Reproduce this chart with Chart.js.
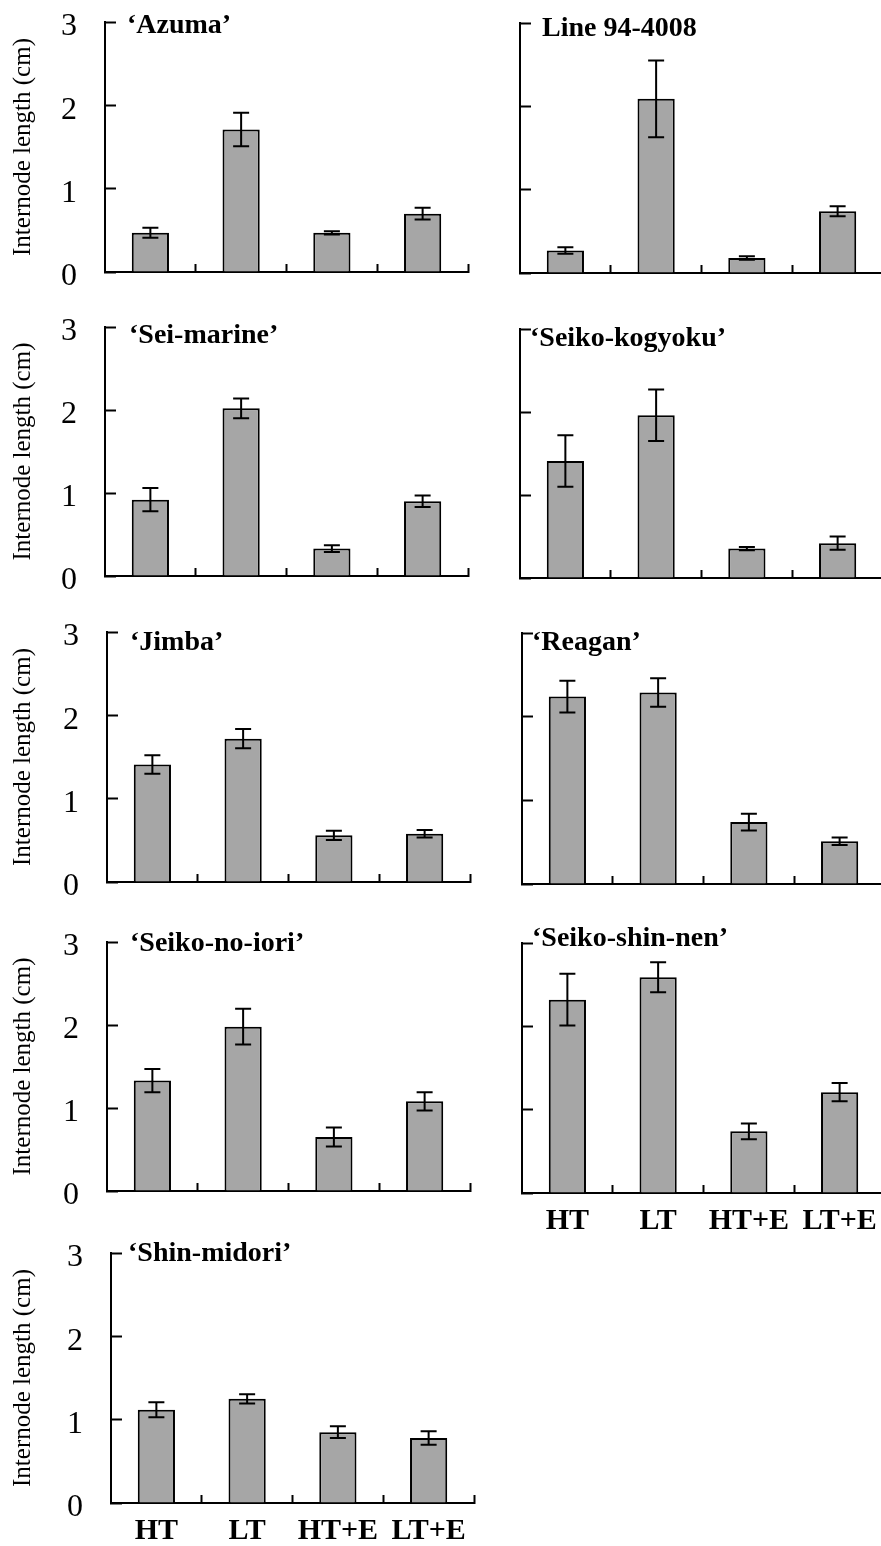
<!DOCTYPE html>
<html>
<head>
<meta charset="utf-8">
<script src="https://cdn.jsdelivr.net/npm/chart.js@4.4.1/dist/chart.umd.min.js"></script>
<style>
  html, body { margin: 0; padding: 0; background: #fff; overflow: hidden; }
  #page { position: relative; width: 881px; height: 1546px; overflow: hidden; background: #fff; }
  #page canvas { position: absolute; }
</style>
</head>
<body>
<div id="page"></div>
<script>
const categories = ['HT', 'LT', 'HT+E', 'LT+E'];
const yTicks = [0, 1, 2, 3];
const cultivars = ['‘Azuma’', 'Line 94-4008', '‘Sei-marine’', '‘Seiko-kogyoku’', '‘Jimba’',
                   '‘Reagan’', '‘Seiko-no-iori’', '‘Seiko-shin-nen’', '‘Shin-midori’'];

// mean internode length (cm) and error bar half-length
const azumaMean = [0.47, 1.71, 0.47, 0.70];
const azumaErr = [0.06, 0.20, 0.02, 0.07];
const line94Mean = [0.27, 2.09, 0.18, 0.74];
const line94Err = [0.04, 0.46, 0.02, 0.06];
const seiMarineMean = [0.92, 2.02, 0.33, 0.90];
const seiMarineErr = [0.14, 0.12, 0.04, 0.07];
const kogyokuMean = [1.41, 1.96, 0.355, 0.42];
const kogyokuErr = [0.31, 0.31, 0.02, 0.08];
const jimbaMean = [1.41, 1.72, 0.56, 0.58];
const jimbaErr = [0.11, 0.115, 0.055, 0.045];
const reaganMean = [2.24, 2.29, 0.74, 0.51];
const reaganErr = [0.19, 0.17, 0.10, 0.045];
const noIoriMean = [1.33, 1.98, 0.65, 1.08];
const noIoriErr = [0.14, 0.215, 0.115, 0.11];
const shinNenMean = [2.32, 2.59, 0.74, 1.21];
const shinNenErr = [0.31, 0.18, 0.095, 0.11];
const shinMidoriMean = [1.12, 1.25, 0.85, 0.78];
const shinMidoriErr = [0.09, 0.055, 0.07, 0.08];

const means = [azumaMean, line94Mean, seiMarineMean, kogyokuMean, jimbaMean,
               reaganMean, noIoriMean, shinNenMean, shinMidoriMean];
const errors = [azumaErr, line94Err, seiMarineErr, kogyokuErr, jimbaErr,
                reaganErr, noIoriErr, shinNenErr, shinMidoriErr];

// panel placement on the page (pixels)
const panels = [
  { col: 0, axisX: 105, top: 22,   base: 272,  right: 468, labels: false, tx: 22, ty: 11 },
  { col: 1, axisX: 520, top: 23,   base: 273,  right: 883, labels: false, tx: 22, ty: 13 },
  { col: 0, axisX: 105, top: 327,  base: 576,  right: 468, labels: false, tx: 24, ty: 16 },
  { col: 1, axisX: 520, top: 329,  base: 578,  right: 883, labels: false, tx: 10, ty: 17 },
  { col: 0, axisX: 107, top: 632,  base: 882,  right: 470, labels: false, tx: 23, ty: 18 },
  { col: 1, axisX: 522, top: 633,  base: 884,  right: 885, labels: false, tx: 10, ty: 17 },
  { col: 0, axisX: 107, top: 942,  base: 1191, right: 470, labels: false, tx: 23, ty: 9 },
  { col: 1, axisX: 522, top: 943,  base: 1193, right: 885, labels: true,  tx: 10, ty: 3 },
  { col: 0, axisX: 111, top: 1253, base: 1503, right: 474, labels: true,  tx: 17, ty: 8 },
];

Chart.defaults.font.family = "'Liberation Serif', 'Times New Roman', serif";
Chart.defaults.color = '#000';

const page = document.getElementById('page');

function errorBarPlugin(k) {
  return {
    id: 'errorBars' + k,
    afterDatasetsDraw(chart) {
      const ctx = chart.ctx;
      const y = chart.scales.y;
      const meta = chart.getDatasetMeta(0);
      ctx.save();
      ctx.strokeStyle = '#000';
      ctx.lineWidth = 2;
      meta.data.forEach((bar, i) => {
        const hi = y.getPixelForValue(means[k][i] + errors[k][i]);
        const lo = y.getPixelForValue(means[k][i] - errors[k][i]);
        ctx.beginPath();
        ctx.moveTo(bar.x, hi); ctx.lineTo(bar.x, lo);
        ctx.moveTo(bar.x - 8, hi); ctx.lineTo(bar.x + 8, hi);
        ctx.moveTo(bar.x - 8, lo); ctx.lineTo(bar.x + 8, lo);
        ctx.stroke();
      });
      ctx.restore();
    }
  };
}

function titlePlugin(k) {
  const p = panels[k];
  return {
    id: 'panelTitle' + k,
    afterDraw(chart) {
      const ctx = chart.ctx;
      const area = chart.chartArea;
      ctx.save();
      ctx.font = "bold 28px 'Liberation Serif', 'Times New Roman', serif";
      ctx.fillStyle = '#000';
      ctx.textBaseline = 'alphabetic';
      ctx.fillText(cultivars[k], area.left + p.tx, area.top + p.ty);
      ctx.restore();
    }
  };
}

function drawPanel(k) {
  const p = panels[k];
  const colX = p.col === 0 ? 0 : 440;
  const padTop = 25;
  const xh = p.labels ? 62 : 32;
  const canvas = document.createElement('canvas');
  canvas.width = p.right - colX + 4;
  canvas.height = padTop + (p.base - p.top) + xh;
  canvas.style.left = colX + 'px';
  canvas.style.top = (p.top - padTop) + 'px';
  page.appendChild(canvas);

  new Chart(canvas, {
    type: 'bar',
    data: {
      labels: categories,
      datasets: [{
        data: means[k],
        backgroundColor: '#a6a6a6',
        borderColor: '#000',
        borderWidth: 2,
        barPercentage: 0.41,
        categoryPercentage: 1,
      }]
    },
    options: {
      responsive: false,
      animation: false,
      devicePixelRatio: 1,
      layout: { padding: { top: padTop, right: 4, left: 0, bottom: 0 } },
      plugins: { legend: { display: false }, tooltip: { enabled: false } },
      scales: {
        x: {
          grid: {
            offset: true,
            drawOnChartArea: false,
            tickLength: -8,
            tickWidth: 2,
            tickColor: (c) => c.index === 0 ? 'rgba(0,0,0,0)' : '#000',
          },
          border: { display: true, color: '#000', width: 2 },
          ticks: { display: p.labels, font: { size: 30, weight: 'bold' }, padding: 18, color: '#000' },
          afterFit: (s) => { s.height = xh; s.paddingLeft = 0; s.paddingRight = 0; }
        },
        y: {
          min: 0,
          max: 3,
          afterBuildTicks: (s) => { s.ticks = yTicks.map(v => ({ value: v })); },
          grid: { drawOnChartArea: false, tickLength: -11, tickWidth: 2, tickColor: '#000' },
          border: { display: true, color: '#000', width: 2 },
          ticks: { display: p.col === 0, font: { size: 32 }, padding: 39, labelOffset: 5, color: '#000' },
          title: {
            display: p.col === 0,
            text: 'Internode length (cm)',
            font: { size: 25 },
            color: '#000',
            padding: { top: 8, bottom: 0 }
          },
          afterFit: (s) => { s.width = p.axisX - colX; s.paddingTop = 0; s.paddingBottom = 0; }
        }
      }
    },
    plugins: [errorBarPlugin(k), titlePlugin(k)]
  });
}

panels.forEach((p, k) => drawPanel(k));
</script>
</body>
</html>
